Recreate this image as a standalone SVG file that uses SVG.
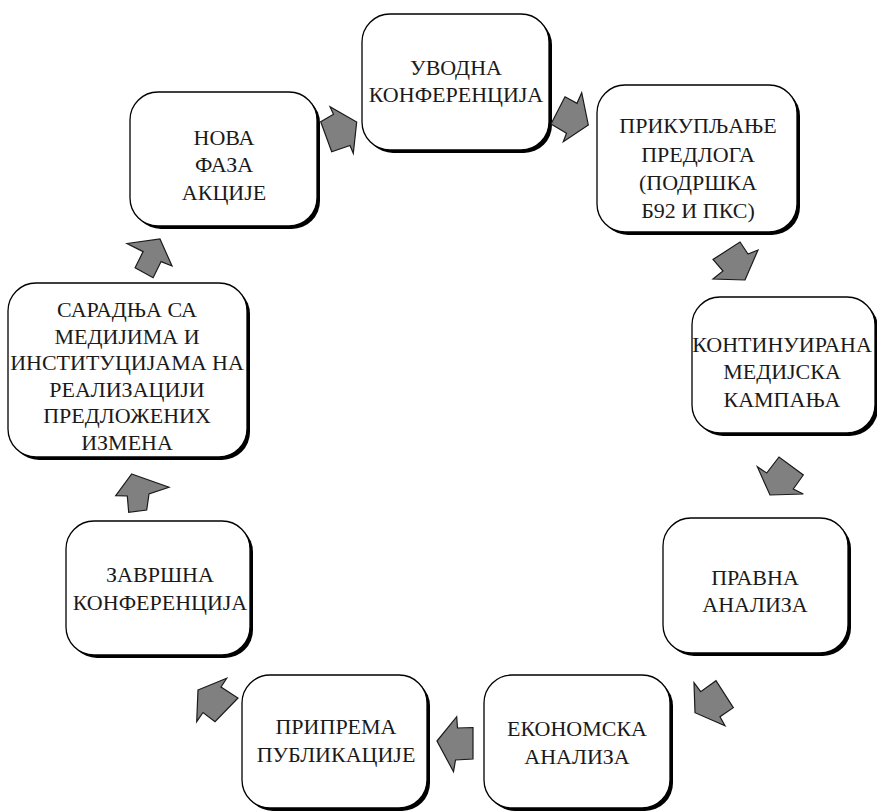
<svg xmlns="http://www.w3.org/2000/svg" width="877" height="811" viewBox="0 0 877 811">
  <style>
    .shadow { fill: #000; }
    .box { fill: #fff; stroke: #000; stroke-width: 1.3; }
    .label { font-family: "Liberation Serif", "Times New Roman", serif; font-size: 22px; fill: #1a1a1a; text-anchor: middle; }
    .arrow { fill: #808080; stroke: #1a1a1a; stroke-width: 1.2; stroke-linejoin: miter; }
  </style>
  <rect width="877" height="811" fill="#fff"/>

  <!-- process steps -->
  <g id="uvodna">
    <rect class="shadow" x="365" y="17" width="187" height="136" rx="28"/>
    <rect class="box" x="362" y="14" width="187" height="136" rx="28"/>
    <text class="label" x="456" y="75">УВОДНА</text>
    <text class="label" x="456" y="102">КОНФЕРЕНЦИЈА</text>
  </g>
  <g id="prikupljanje">
    <rect class="shadow" x="600" y="88" width="200" height="147" rx="28"/>
    <rect class="box" x="597" y="85" width="200" height="147" rx="28"/>
    <text class="label" x="698" y="133">ПРИКУПЉАЊЕ</text>
    <text class="label" x="698" y="161.5">ПРЕДЛОГА</text>
    <text class="label" x="698" y="190">(ПОДРШКА</text>
    <text class="label" x="698" y="218">Б92 И ПКС)</text>
  </g>
  <g id="kontinuirana">
    <rect class="shadow" x="695" y="300" width="183" height="136" rx="28"/>
    <rect class="box" x="692" y="297" width="183" height="136" rx="28"/>
    <text class="label" x="782" y="352">КОНТИНУИРАНА</text>
    <text class="label" x="782" y="379">МЕДИЈСКА</text>
    <text class="label" x="782" y="406.5">КАМПАЊА</text>
  </g>
  <g id="pravna">
    <rect class="shadow" x="666" y="521" width="185" height="135" rx="28"/>
    <rect class="box" x="663" y="518" width="185" height="135" rx="28"/>
    <text class="label" x="755" y="585">ПРАВНА</text>
    <text class="label" x="755" y="612">АНАЛИЗА</text>
  </g>
  <g id="ekonomska">
    <rect class="shadow" x="487" y="678" width="186" height="133" rx="28"/>
    <rect class="box" x="484" y="675" width="186" height="133" rx="28"/>
    <text class="label" x="577" y="736">ЕКОНОМСКА</text>
    <text class="label" x="577" y="764">АНАЛИЗА</text>
  </g>
  <g id="priprema">
    <rect class="shadow" x="245" y="678" width="185" height="133" rx="28"/>
    <rect class="box" x="242" y="675" width="185" height="133" rx="28"/>
    <text class="label" x="336" y="734">ПРИПРЕМА</text>
    <text class="label" x="336" y="762">ПУБЛИКАЦИЈЕ</text>
  </g>
  <g id="zavrsna">
    <rect class="shadow" x="69" y="524" width="184" height="134" rx="28"/>
    <rect class="box" x="66" y="521" width="184" height="134" rx="28"/>
    <text class="label" x="160" y="582">ЗАВРШНА</text>
    <text class="label" x="160" y="610">КОНФЕРЕНЦИЈА</text>
  </g>
  <g id="saradnja">
    <rect class="shadow" x="11" y="286" width="239" height="174" rx="28"/>
    <rect class="box" x="8" y="283" width="239" height="174" rx="28"/>
    <text class="label" x="127" y="317">САРАДЊА СА</text>
    <text class="label" x="127" y="343.5">МЕДИЈИМА И</text>
    <text class="label" x="127" y="370">ИНСТИТУЦИЈАМА НА</text>
    <text class="label" x="127" y="396.5">РЕАЛИЗАЦИЈИ</text>
    <text class="label" x="127" y="423">ПРЕДЛОЖЕНИХ</text>
    <text class="label" x="127" y="449.5">ИЗМЕНА</text>
  </g>
  <g id="nova">
    <rect class="shadow" x="133" y="95" width="187" height="134" rx="28"/>
    <rect class="box" x="130" y="92" width="187" height="134" rx="28"/>
    <text class="label" x="224" y="145">НОВА</text>
    <text class="label" x="224" y="172">ФАЗА</text>
    <text class="label" x="224" y="200">АКЦИЈЕ</text>
  </g>

  <!-- block arrows: tip, head corner, shoulder, tail, tail, shoulder, head corner -->
  <g id="connectors">
    <polygon class="arrow" points="356.7,122 353.3,153.3 350,145.5 331.7,151.7 320.7,121.7 333.5,114.3 330,106.7"/>
    <polygon class="arrow" points="588.3,125 563.3,141.7 566.5,133.3 551,124 565,96.7 577,103.3 581.7,92.7"/>
    <polygon class="arrow" points="745,280 713,279 723,271 713,259.5 740,242 748,254 758,250"/>
    <polygon class="arrow" points="770,495 803.3,494 793.3,489 803.3,475 779,457 766.7,473 757.3,466.7"/>
    <polygon class="arrow" points="695,712.7 694,682.7 700.7,691.7 716,680.7 733.3,707.7 720,716.7 725,725.7"/>
    <polygon class="arrow" points="437,741 456.7,716.7 457.5,728 473,727.5 473,759 455.5,760 453.5,771.7"/>
    <polygon class="arrow" points="198,690 226.7,678.3 221,687 238,698 215,721.7 203,712.5 196.7,721.7"/>
    <polygon class="arrow" points="131.7,474 169,487.3 149,494 146.7,510 128.7,512.3 127.3,496 115.7,495.7"/>
    <polygon class="arrow" points="160,239 172,266 161.1,261.6 153.1,277.7 135.1,267.7 143.1,251.6 127,243.5"/>
  </g>
</svg>
